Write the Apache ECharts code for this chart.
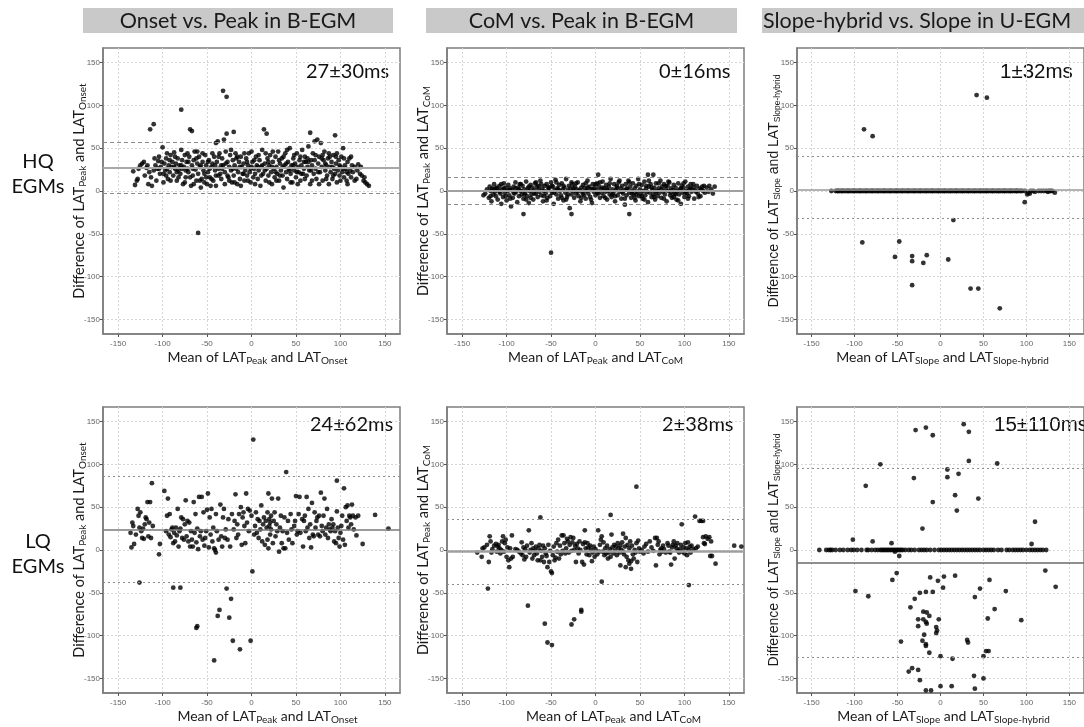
<!DOCTYPE html>
<html>
<head>
<meta charset="utf-8">
<script src="https://cdn.jsdelivr.net/npm/echarts@6/dist/echarts.min.js"></script>
<style>
  html, body { margin: 0; padding: 0; background: #fff; }
  #chart { width: 1084px; height: 727px; }
</style>
</head>
<body>
<div id="chart"></div>
<script>
// ---- Bland-Altman data: [mean of the two LATs, difference] in ms ----

// HQ EGMs, Onset vs. Peak (B-EGM)
const p1Points = [[-133,23],[-131,7],[-129,12],[-128,14],[-127,26],[-125,30],[-123,32],[-121,34],[-118,27],[-116,8],[-115,22],[-114,72],[-112,6],[-110,78],[-110,24],[-108,30],[-107,12],[-105,35],[-104,40],[-103,20],[-102,28],[-100,51],[-99,10],[-98,32],[-97,24],[-96,38],[-95,26],[-94,14],[-93,30],[-92,22],[-91,42],[-90,28],[-89,34],[-88,18],[-87,45],[-86,26],[-85,32],[-84,12],[-83,38],[-82,24],[-81,30],[-80,20],[-79,95],[-79,48],[-78,36],[-77,8],[-76,28],[-75,42],[-74,16],[-73,34],[-72,26],[-71,22],[-70,40],[-69,72],[-68,6],[-67,70],[-67,30],[-66,18],[-65,36],[-64,46],[-63,25],[-62,12],[-61,32],[-60,-49],[-60,20],[-59,40],[-58,28],[-57,4],[-56,14],[-55,34],[-54,24],[-53,10],[-52,42],[-51,30],[-50,8],[-49,22],[-48,36],[-47,16],[-46,6],[-45,28],[-44,32],[-43,12],[-42,40],[-41,24],[-40,56],[-40,18],[-39,34],[-38,58],[-37,26],[-36,44],[-35,20],[-34,14],[-33,38],[-32,117],[-32,30],[-31,60],[-30,22],[-29,46],[-28,110],[-28,67],[-27,34],[-26,16],[-25,28],[-24,42],[-23,24],[-22,10],[-21,36],[-20,69],[-20,18],[-19,30],[-18,44],[-17,26],[-16,8],[-15,22],[-14,34],[-13,14],[-12,40],[-11,28],[-10,20],[-9,32],[-8,12],[-7,24],[-6,38],[-5,18],[-4,30],[-3,44],[-2,22],[-1,10],[0,28],[1,34],[2,16],[3,26],[4,20],[5,40],[6,30],[7,14],[8,24],[9,36],[10,6],[11,28],[12,48],[13,20],[14,72],[15,32],[16,12],[17,67],[17,26],[18,38],[19,18],[20,30],[21,42],[22,22],[23,8],[24,34],[25,26],[26,16],[27,40],[28,28],[29,20],[30,46],[31,12],[32,32],[33,24],[34,38],[35,18],[36,4],[37,30],[38,44],[39,22],[40,14],[41,34],[42,26],[43,50],[44,20],[45,30],[46,10],[47,38],[48,24],[49,32],[50,16],[51,44],[52,28],[53,22],[54,36],[55,12],[56,30],[57,48],[58,20],[59,26],[60,40],[61,34],[62,18],[63,28],[64,52],[65,24],[66,68],[66,8],[67,36],[68,30],[69,44],[70,20],[71,58],[72,26],[73,14],[74,60],[75,32],[76,40],[77,22],[78,56],[79,28],[80,12],[81,36],[82,46],[83,24],[84,30],[85,18],[86,38],[87,8],[88,28],[89,22],[90,34],[91,14],[92,42],[93,26],[94,65],[94,20],[95,32],[96,10],[97,24],[98,36],[99,18],[100,28],[101,40],[102,22],[103,50],[104,16],[105,30],[106,26],[107,12],[108,34],[109,20],[110,38],[111,24],[112,16],[113,30],[114,22],[116,28],[118,14],[120,31],[122,20],[124,18],[126,12],[128,10],[130,8],[132,6],
  [-106,26],[-101,34],[-96,18],[-92,36],[-87,28],[-84,22],[-79,30],[-74,24],[-71,34],[-66,26],[-62,38],[-57,30],[-53,20],[-49,34],[-45,14],[-41,30],[-37,18],[-33,26],[-29,32],[-25,12],[-21,26],[-17,38],[-13,28],[-9,20],[-5,34],[-1,26],[3,36],[7,28],[11,18],[15,24],[19,34],[23,28],[27,22],[31,36],[35,28],[39,32],[43,24],[47,30],[51,22],[55,40],[59,34],[63,38],[67,24],[71,36],[75,22],[79,38],[83,32],[87,44],[91,28],[95,40],[99,30],[103,26],[107,22],
  [-120,18],[-117,30],[-113,16],[-109,38],[-104,26],[-99,20],[-95,44],[-91,12],[-86,40],[-82,16],[-78,26],[-75,10],[-72,44],[-69,16],[-65,8],[-61,46],[-58,12],[-55,44],[-51,16],[-47,26],[-44,44],[-40,6],[-37,40],[-34,30],[-30,8],[-27,18],[-23,48],[-19,10],[-16,40],[-12,6],[-8,44],[-4,12],[0,46],[4,8],[8,42],[12,30],[16,44],[20,10],[24,46],[28,12],[32,18],[36,40],[40,48],[44,10],[48,42],[52,8],[56,20],[60,14],[64,34],[68,12],[72,42],[76,8],[80,42],[84,14],[88,40],[92,18],[96,44],[100,12],[104,38],[108,8],[112,40],[116,12],[119,24],[123,28],[127,16]];
const p1Ref = [27, 57, -3];   // mean, upper and lower limits of agreement

// HQ EGMs, CoM vs. Peak (B-EGM)
const p2Points = [[-126,-5],[-124,-3],[-122,2],[-120,-8],[-119,5],[-118,0],[-117,-12],[-116,3],[-115,-4],[-114,8],[-113,-1],[-112,-6],[-111,4],[-110,-10],[-109,1],[-108,6],[-107,-3],[-106,-15],[-105,2],[-104,-7],[-103,9],[-102,-2],[-101,4],[-100,-11],[-99,0],[-98,7],[-97,-5],[-96,3],[-95,-18],[-94,1],[-93,-8],[-92,5],[-91,-3],[-90,10],[-89,-1],[-88,-13],[-87,4],[-86,-6],[-85,8],[-84,0],[-83,-4],[-82,6],[-81,-27],[-81,-9],[-80,2],[-79,-2],[-78,11],[-77,-6],[-76,3],[-75,-14],[-74,0],[-73,7],[-72,-4],[-71,4],[-70,-10],[-69,1],[-68,9],[-67,-3],[-66,5],[-65,-7],[-64,2],[-63,-1],[-62,12],[-61,-5],[-60,3],[-59,-12],[-58,0],[-57,6],[-56,-3],[-55,8],[-54,-8],[-53,1],[-52,4],[-51,-6],[-50,-72],[-50,10],[-49,-2],[-48,5],[-47,-15],[-46,1],[-45,13],[-44,-4],[-43,3],[-42,-9],[-41,7],[-40,0],[-39,-5],[-38,9],[-37,2],[-36,-11],[-35,4],[-34,-2],[-33,14],[-32,-7],[-31,1],[-30,6],[-29,-20],[-28,3],[-27,-27],[-27,-4],[-26,8],[-25,0],[-24,-8],[-23,5],[-22,-3],[-21,2],[-20,10],[-19,-6],[-18,1],[-17,-12],[-16,4],[-15,-1],[-14,7],[-13,-5],[-12,3],[-11,-9],[-10,0],[-9,12],[-8,-3],[-7,5],[-6,-7],[-5,2],[-4,-14],[-3,8],[-2,-1],[-1,4],[0,-5],[1,1],[2,9],[3,19],[3,-3],[4,5],[5,-8],[6,2],[7,-2],[8,11],[9,-6],[10,3],[11,-1],[12,7],[13,-10],[14,0],[15,5],[16,-4],[17,14],[18,-7],[19,2],[20,-2],[21,8],[22,-12],[23,1],[24,4],[25,-5],[26,10],[27,-1],[28,3],[29,-9],[30,6],[31,-3],[32,1],[33,-16],[34,8],[35,-5],[36,2],[37,12],[38,-27],[38,-2],[39,5],[40,-8],[41,0],[42,9],[43,-4],[44,3],[45,-11],[46,6],[47,-1],[48,14],[49,-6],[50,2],[51,-3],[52,7],[53,-9],[54,0],[55,11],[56,-5],[57,3],[58,-1],[59,19],[59,-13],[60,5],[61,-2],[62,8],[63,-7],[64,1],[65,19],[65,-4],[66,4],[67,-10],[68,9],[69,0],[70,-6],[71,3],[72,-2],[73,12],[74,-8],[75,5],[76,-1],[77,8],[78,-4],[79,2],[80,-12],[81,6],[82,0],[83,10],[84,-5],[85,3],[86,-8],[87,1],[88,7],[89,-3],[90,4],[91,-10],[92,0],[93,9],[94,-4],[95,2],[96,-15],[97,6],[98,-2],[99,4],[100,-7],[101,11],[102,0],[103,-3],[104,5],[105,-6],[106,2],[107,8],[108,-1],[110,4],[111,-9],[112,1],[114,6],[115,-3],[117,3],[118,-6],[120,5],[121,0],[123,-2],[125,4],[127,-1],[128,6],[130,2],[132,-3],[134,5],
  [-115,2],[-108,-1],[-103,3],[-97,1],[-92,-2],[-86,2],[-80,-4],[-75,5],[-69,-3],[-64,6],[-58,-6],[-53,4],[-47,-2],[-42,2],[-36,6],[-31,-4],[-25,3],[-20,-1],[-14,-3],[-9,4],[-3,2],[2,-2],[8,4],[13,2],[19,-4],[24,6],[30,-1],[35,3],[41,-3],[46,-4],[52,-6],[57,6],[63,4],[68,-2],[74,2],[79,6],[85,-2],[90,-4],[96,3],[101,-2],[107,3],[113,-1],[119,2],
  [-118,-6],[-112,3],[-106,8],[-101,-6],[-96,-9],[-90,3],[-84,8],[-78,-10],[-73,-8],[-67,10],[-61,8],[-55,-11],[-49,6],[-44,10],[-38,-8],[-33,-10],[-27,10],[-22,9],[-16,-8],[-11,9],[-5,-10],[0,8],[5,10],[11,-8],[16,9],[22,-6],[27,12],[33,-9],[38,10],[44,-8],[49,8],[55,-10],[60,12],[66,-7],[71,9],[77,-9],[82,11],[88,-7],[93,-11],[99,9],[104,-9],[110,8],[116,-7],[122,6]];
const p2Ref = [0, 16, -16];

// HQ EGMs, Slope-hybrid vs. Slope (U-EGM): points with zero difference, then the rest
const p3ZeroX = [-127,-122,-120,-119,-117,-115,-114,-112,-110,-108,-107,-105,-103,-101,-100,-98,-96,-94,-93,-91,-89,-87,-86,-84,-82,-80,-79,-77,-75,-73,-72,-70,-68,-66,-65,-63,-61,-59,-58,-56,-54,-52,-51,-49,-47,-45,-44,-42,-40,-38,-37,-35,-33,-31,-30,-28,-26,-24,-23,-21,-19,-17,-16,-14,-12,-10,-9,-7,-5,-3,-2,0,2,4,5,7,9,11,12,14,16,18,19,21,23,25,26,28,30,32,33,35,37,39,40,42,44,46,47,49,51,53,54,56,58,60,61,63,65,67,68,70,72,74,75,77,79,81,82,84,86,88,89,91,93,95,98,105,108,114,117,120,123,126,128,130];
const p3Points = [[-89,72],[-79,64],[42,112],[54,109],[-91,-60],[-48,-59],[-53,-77],[-33,-76],[-33,-82],[-16,-75],[-20,-84],[-33,-110],[9,-80],[15,-34],[35,-114],[44,-114],[69,-137],[98,-13],[101,-4],[102,-2],[104,-3],[110,-1],[125,-1],[133,-2]];
const p3Ref = [1, 41, -32];

// LQ EGMs, Onset vs. Peak (B-EGM)
const p4Points = [[-136,20],[-135,3],[-134,32],[-133,28],[-132,7],[-130,18],[-128,48],[-127,40],[-126,26],[-126,-38],[-125,44],[-124,22],[-123,14],[-122,25],[-121,13],[-120,30],[-119,38],[-118,36],[-117,56],[-116,16],[-115,32],[-114,56],[-113,14],[-112,78],[-111,28],[-104,-5],[-103,7],[-98,69],[-96,22],[-95,40],[-94,60],[-93,18],[-92,42],[-91,15],[-90,24],[-89,26],[-88,-44],[-88,8],[-87,20],[-86,10],[-85,26],[-84,17],[-83,48],[-82,4],[-81,22],[-80,-44],[-80,25],[-79,38],[-78,14],[-77,36],[-76,12],[-75,30],[-74,58],[-73,16],[-72,34],[-71,10],[-70,32],[-69,4],[-68,22],[-67,12],[-66,4],[-65,56],[-64,20],[-63,42],[-62,9],[-62,-91],[-61,-89],[-61,25],[-60,1],[-59,62],[-58,16],[-57,22],[-56,62],[-55,12],[-54,44],[-53,5],[-52,14],[-51,22],[-50,47],[-49,66],[-48,3],[-47,38],[-46,18],[-45,48],[-44,10],[-43,26],[-42,-129],[-42,2],[-41,0],[-40,-3],[-40,42],[-39,22],[-38,-77],[-37,12],[-36,-70],[-35,53],[-34,16],[-33,4],[-32,38],[-31,48],[-30,14],[-29,24],[-28,-45],[-27,12],[-26,36],[-25,-79],[-24,4],[-23,-57],[-22,42],[-21,-106],[-20,24],[-19,34],[-18,65],[-17,14],[-16,30],[-15,18],[-14,42],[-13,-116],[-12,50],[-11,6],[-10,38],[-9,44],[-8,28],[-7,8],[-6,66],[-5,32],[-4,48],[-3,22],[-2,46],[-1,-106],[0,40],[1,-25],[2,129],[3,18],[4,28],[5,44],[6,20],[7,36],[8,14],[9,34],[10,24],[11,52],[12,10],[13,30],[14,38],[15,6],[16,34],[17,26],[18,44],[18,12],[19,2],[19,66],[20,28],[20,36],[21,32],[21,18],[22,40],[22,24],[23,60],[24,8],[25,34],[26,44],[27,16],[28,30],[29,22],[30,60],[31,-2],[32,26],[33,40],[34,8],[35,22],[36,2],[37,38],[38,2],[39,91],[40,20],[41,34],[42,12],[44,42],[45,24],[46,8],[48,28],[49,34],[50,63],[51,18],[52,22],[53,42],[54,62],[55,20],[57,36],[58,4],[59,34],[60,40],[61,22],[62,62],[63,26],[64,48],[65,14],[66,30],[67,3],[68,55],[69,18],[70,16],[71,44],[72,26],[73,34],[74,38],[75,18],[76,40],[77,16],[78,67],[79,28],[80,22],[81,40],[82,60],[83,18],[84,26],[85,48],[86,14],[87,30],[88,24],[89,22],[90,36],[91,26],[92,30],[93,10],[94,22],[95,8],[96,81],[96,45],[97,26],[98,14],[99,4],[100,20],[101,28],[102,40],[103,12],[104,72],[105,6],[106,50],[107,34],[108,52],[109,26],[110,40],[111,38],[112,30],[113,53],[114,40],[115,24],[117,38],[118,17],[120,40],[125,7],[139,41],[154,25]];
const p4Ref = [24, 86, -38];

// LQ EGMs, CoM vs. Peak (B-EGM)
const p5Points = [[-133,-3],[-128,-8],[-127,2],[-125,3],[-122,6],[-121,-45],[-120,-14],[-119,16],[-118,10],[-117,-3],[-116,1],[-114,5],[-112,7],[-111,-2],[-110,4],[-109,6],[-108,2],[-107,-4],[-106,0],[-105,10],[-104,16],[-103,-2],[-102,8],[-101,12],[-100,-8],[-99,3],[-98,-12],[-97,-20],[-96,2],[-95,-10],[-94,17],[-93,-8],[-90,1],[-88,0],[-86,-2],[-84,-4],[-83,9],[-82,-6],[-81,3],[-80,-11],[-79,1],[-78,-8],[-77,5],[-76,-65],[-75,23],[-74,-3],[-73,0],[-72,8],[-71,-10],[-70,2],[-69,-6],[-68,-1],[-67,4],[-66,-4],[-65,-12],[-64,2],[-63,6],[-62,38],[-62,-12],[-61,-1],[-60,-8],[-59,5],[-58,-14],[-57,-86],[-57,2],[-56,-4],[-55,-7],[-54,-108],[-54,-20],[-53,6],[-52,-14],[-51,-1],[-50,-25],[-49,-111],[-49,-27],[-48,-6],[-47,4],[-46,-12],[-45,-9],[-44,8],[-43,-2],[-42,12],[-41,-10],[-40,5],[-39,-5],[-38,17],[-37,-1],[-36,17],[-35,8],[-34,-4],[-33,2],[-32,13],[-31,10],[-30,-3],[-29,6],[-28,15],[-27,-87],[-27,-1],[-26,9],[-25,14],[-24,-81],[-24,0],[-23,5],[-22,-14],[-21,7],[-20,2],[-19,-4],[-18,10],[-17,0],[-16,-70],[-16,-72],[-15,-14],[-14,7],[-13,-17],[-12,23],[-12,9],[-11,2],[-10,-5],[-9,8],[-8,3],[-7,-6],[-6,5],[-5,0],[-4,-13],[-3,-3],[-2,4],[-1,-8],[0,1],[2,-5],[3,23],[4,-2],[5,6],[6,12],[7,-37],[7,16],[8,-2],[9,9],[10,-6],[11,2],[12,-4],[13,5],[14,-10],[15,-3],[16,1],[17,41],[17,-8],[18,18],[19,3],[20,-4],[21,6],[22,-1],[23,4],[24,-6],[25,8],[26,2],[27,-3],[28,-18],[28,5],[29,0],[30,9],[31,19],[31,-2],[32,-5],[33,4],[34,-20],[34,14],[35,-8],[36,6],[37,-12],[38,-16],[38,2],[39,10],[40,-22],[40,-13],[41,5],[42,-5],[43,-10],[44,0],[45,-3],[46,74],[46,8],[47,-14],[48,11],[49,2],[50,-2],[52,0],[54,-4],[55,4],[57,7],[59,-2],[61,10],[63,3],[65,-1],[67,14],[68,-18],[69,14],[70,6],[71,10],[72,-5],[73,0],[74,2],[75,-2],[76,5],[77,1],[79,-3],[81,8],[82,5],[83,-2],[84,-3],[85,-17],[86,3],[87,6],[88,10],[89,-10],[90,5],[91,2],[92,8],[93,-1],[94,-3],[95,1],[96,6],[97,30],[98,-2],[99,3],[100,-4],[101,8],[102,2],[103,-6],[104,9],[105,-41],[105,0],[106,4],[107,-3],[108,5],[110,1],[112,39],[113,2],[115,4],[117,34],[119,34],[121,34],[121,15],[122,8],[123,7],[124,16],[126,13],[128,15],[129,-7],[130,10],[131,-7],[135,-16],[156,5],[164,4]];
const p5Ref = [-2, 36, -40];

// LQ EGMs, Slope-hybrid vs. Slope (U-EGM)
const p6ZeroX = [-141,-133,-130,-128,-126,-122,-117,-113,-108,-104,-101,-97,-92,-86,-84,-80,-76,-73,-70,-68,-66,-64,-62,-60,-58,-56,-54,-52,-50,-48,-46,-44,-41,-37,-34,-30,-25,-22,-19,-16,-12,-7,-2,1,4,7,10,13,16,19,22,25,28,31,34,37,40,43,46,50,53,56,59,62,67,71,77,80,84,87,90,93,96,100,104,107,110,113,116,119,123];
const p6Points = [[27,147],[33,138],[-17,143],[-29,140],[-9,134],[33,104],[66,101],[-70,100],[8,94],[8,85],[21,89],[-31,84],[-87,75],[17,64],[44,60],[-9,56],[19,46],[-21,25],[110,33],[-102,12],[-79,10],[-57,8],[106,7],[-53,-2],[-48,-7],
  [122,-24],[134,-43],[-51,-27],[-56,-35],[-99,-48],[-84,-54],[-12,-32],[-3,-36],[4,-31],[3,-44],[17,-30],[57,-35],[46,-45],[76,-48],[40,-55],[-30,-57],[-24,-50],[-17,-49],[-9,-49],[-35,-67],[-20,-72],[-16,-73],[-13,-77],[-26,-81],[-20,-81],[-17,-84],[-16,-86],[-2,-81],[-26,-89],[-5,-90],[-4,-94],[-5,-97],[-19,-99],[-21,-106],[-17,-110],[-17,-112],[-46,-107],[-13,-120],[31,-105],[32,-108],[55,-80],[63,-69],[94,-82],[53,-118],[56,-118],[50,-124],[0,-124],[14,-127],[-37,-142],[-33,-138],[-26,-140],[-24,-152],[39,-147],[50,-150],[0,-159],[13,-159],[40,-162],[-17,-164],[-11,-164]];
const p6Ref = [-15, 95, -125];

// ---- Text ----
const colHeaders = ['Onset vs. Peak in B-EGM', 'CoM vs. Peak in B-EGM', 'Slope-hybrid vs. Slope in U-EGM'];
const rowLabels = ['HQ\nEGMs', 'LQ\nEGMs'];
const statLabels = ['27±30ms', '0±16ms', '1±32ms', '24±62ms', '2±38ms', '15±110ms'];
const xTitles = ['Mean of LAT{s|Peak} and LAT{s|Onset}', 'Mean of LAT{s|Peak} and LAT{s|CoM}', 'Mean of LAT{s|Slope} and LAT{s|Slope-hybrid}'];
const yTitles = ['Difference of LAT{s|Peak} and LAT{s|Onset}', 'Difference of LAT{s|Peak} and LAT{s|CoM}', 'Difference of LAT{s|Slope} and LAT{s|Slope-hybrid}'];
const tickValues = [-150, -100, -50, 0, 50, 100, 150];
const axisRange = [-167, 167];

// ---- Layout ----
const colLeft = [103, 447, 797];
const rowTop = [48, 407];
const plotW = 297, plotH = 286;
const headerBoxes = [[83, 310], [426, 311], [762, 330]];   // left, width
const statPos = [[306, 72], [659, 72], [1000, 72], [310, 425], [662, 425], [994, 425]];
const xTitleShift = [6, 0, 2, 16, 18, 3];   // horizontal nudge of each x-axis title

const CAL = 'Lato, "Open Sans", sans-serif';
const ARIAL = '"Liberation Sans", Arial, sans-serif';

const panels = [
  { pts: p1Points, ref: p1Ref, loaType: [4, 3] },
  { pts: p2Points, ref: p2Ref, loaType: [4, 3] },
  { pts: p3ZeroX.map(x => [x, 0]).concat(p3Points), ref: p3Ref, loaType: [2, 3] },
  { pts: p4Points, ref: p4Ref, loaType: [2, 3] },
  { pts: p5Points, ref: p5Ref, loaType: [2, 3] },
  { pts: p6ZeroX.map(x => [x, 0]).concat(p6Points), ref: p6Ref, loaType: [2, 3] }
];
const meanStyle = [
  { color: '#a8a8a8', width: 2 }, { color: '#a0a0a0', width: 2 }, { color: '#9a9a9a', width: 1.5 },
  { color: '#7a7a7a', width: 1.5 }, { color: '#a0a0a0', width: 2.5 }, { color: '#6a6a6a', width: 1.5 }
];

const grids = [], xAxes = [], yAxes = [], series = [];
panels.forEach((p, i) => {
  const col = i % 3, row = Math.floor(i / 3);
  grids.push({
    left: colLeft[col], top: rowTop[row], width: plotW, height: plotH,
    show: true, borderColor: '#7d7d7d', borderWidth: 1.5, containLabel: false
  });
  const common = {
    type: 'value', min: axisRange[0], max: axisRange[1], gridIndex: i,
    axisLine: { show: true, onZero: false, lineStyle: { color: '#7d7d7d', width: 1.5 } },
    axisTick: { show: true, length: 3, customValues: tickValues, lineStyle: { color: '#555' } },
    axisLabel: { show: true, customValues: tickValues, fontSize: 8, color: '#666', fontFamily: ARIAL },
    splitLine: { show: true, lineStyle: { color: '#d6d6d6', type: [2, 2], width: 1 } },
    nameLocation: 'middle'
  };
  const subStyle = { fontSize: 10, fontFamily: CAL, color: '#1a1a1a', padding: [7, 0, 0, 0] };
  xAxes.push(Object.assign({}, common, {
    position: 'bottom',
    axisLabel: Object.assign({}, common.axisLabel, { margin: 6 }),
    name: xTitles[col], nameGap: 15,
    nameTextStyle: { fontSize: 14, fontFamily: CAL, color: '#1a1a1a', rich: { s: subStyle },
                     padding: [0, 0, 0, 2 * xTitleShift[i]] }
  }));
  const yFont = col === 2 ? ARIAL : CAL;
  const yFontSize = col === 2 ? 14 : 14.5;
  yAxes.push(Object.assign({}, common, {
    position: 'left',
    axisLabel: Object.assign({}, common.axisLabel, { margin: 3 }),
    name: yTitles[col], nameGap: 15, nameRotate: 90, nameMoveOverlap: false,
    nameTextStyle: { fontSize: yFontSize, fontFamily: yFont, color: '#1a1a1a',
      rich: { s: { fontSize: col === 2 ? 8.5 : 10, fontFamily: yFont, color: '#1a1a1a', padding: [7, 0, 0, 0] } } }
  }));
  series.push({
    type: 'scatter', xAxisIndex: i, yAxisIndex: i, data: p.pts,
    symbol: 'circle', symbolSize: 4.8, itemStyle: { color: '#000' },
    silent: true, animation: false,
    markLine: {
      silent: true, symbol: ['none', 'none'], label: { show: false }, animation: false,
      data: [
        { yAxis: p.ref[0], lineStyle: { color: meanStyle[i].color, width: meanStyle[i].width, type: 'solid' } },
        { yAxis: p.ref[1], lineStyle: { color: '#8c8c8c', width: 1.2, type: p.loaType } },
        { yAxis: p.ref[2], lineStyle: { color: '#8c8c8c', width: 1.2, type: p.loaType } }
      ]
    }
  });
});

const graphics = [];
colHeaders.forEach((h, c) => {
  const [l, w] = headerBoxes[c];
  graphics.push({ type: 'rect', shape: { x: l, y: 8, width: w, height: 25 }, style: { fill: '#c9c9c9' }, silent: true });
  graphics.push({ type: 'text', x: c === 2 ? 763 : l + w / 2, y: 21, silent: true,
    style: { text: h, fontSize: 21.5, fontFamily: CAL, fill: '#1a1a1a',
             align: c === 2 ? 'left' : 'center', verticalAlign: 'middle' } });
});
rowLabels.forEach((t, r) => {
  graphics.push({ type: 'text', x: 38, y: r === 0 ? 174 : 554, silent: true,
    style: { text: t, fontSize: 20, lineHeight: 25, fontFamily: CAL, fill: '#111', align: 'center', verticalAlign: 'middle' } });
});
statLabels.forEach((t, i) => {
  const col = i % 3;
  graphics.push({ type: 'text', x: statPos[i][0], y: statPos[i][1], silent: true,
    style: { text: t, fontSize: col === 2 ? 20.5 : 20, fontFamily: col === 2 ? ARIAL : CAL, fill: '#111',
             align: 'left', verticalAlign: 'middle' } });
});

const chart = echarts.init(document.getElementById('chart'), null, { renderer: 'canvas' });
chart.setOption({
  animation: false,
  backgroundColor: '#fff',
  grid: grids, xAxis: xAxes, yAxis: yAxes, series: series,
  graphic: graphics
});
</script>
</body>
</html>
